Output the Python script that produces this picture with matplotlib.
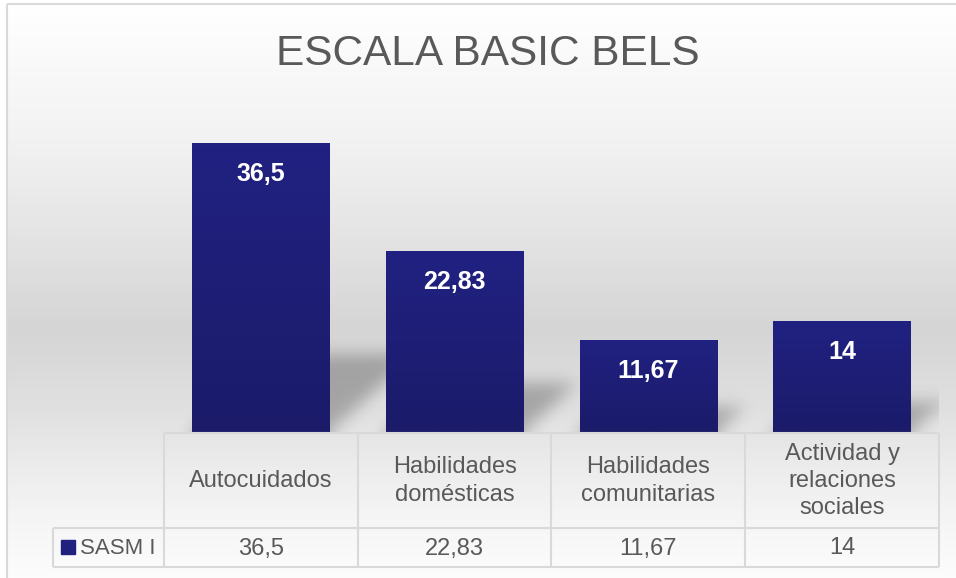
import numpy as np
import matplotlib
matplotlib.use("Agg")
import matplotlib.pyplot as plt
from matplotlib.patches import Rectangle

# ---------------------------------------------------------------------------
# datos
# ---------------------------------------------------------------------------
TITLE = "ESCALA BASIC BELS"
SERIES = "SASM I"
CATEGORIES = ["Autocuidados", "Habilidades\ndomésticas",
              "Habilidades\ncomunitarias", "Actividad y\nrelaciones\nsociales"]
VALUES = [36.5, 22.83, 11.67, 14]

# ---------------------------------------------------------------------------
# diseño (pixeles de la figura)
# ---------------------------------------------------------------------------
W, H = 956, 578
PLOT_L, PLOT_R = 164, 939
PLOT_B, PLOT_T = 432, 115
ROW_MID = 528
TABLE_B = 567
LEG_L = 53
YMAX = 40
BAR_W = 0.71

TXT = "#595959"
GRID = "#d9d9d9"
BAR_TOP = np.array([33, 33, 130]) / 255
BAR_BOT = np.array([27, 27, 106]) / 255

plt.rcParams["font.family"] = ["Liberation Sans", "DejaVu Sans"]


def fmt(v):
    return f"{v:g}".replace(".", ",")


fig = plt.figure(figsize=(W / 100, H / 100), dpi=100)

# fondo con degradado vertical
bg = fig.add_axes([0, 0, 1, 1], zorder=0)
bg.set_xlim(0, W)
bg.set_ylim(H, 0)
bg.axis("off")
stops_y = [0.0, 0.25, 0.4, 0.56, 0.7, 0.8, 0.9, 1.0]
stops_v = [255, 241, 228, 213, 224, 236, 246, 253]
yy = np.linspace(0, 1, 300)
grad = np.interp(yy, stops_y, stops_v) / 255
bg.imshow(np.repeat(grad[:, None, None], 3, axis=2) * np.ones((1, 2, 3)),
          extent=(7, W + 5, H + 5, 4), aspect="auto", zorder=0)
bg.add_patch(Rectangle((7, 4), W, H, fill=False, ec=GRID, lw=1.5, zorder=1))

bg.text(W / 2 + 10, 54, TITLE, ha="center", va="center", fontsize=30.5, color=TXT)

# area del grafico
ax = fig.add_axes([PLOT_L / W, 1 - PLOT_B / H, (PLOT_R - PLOT_L) / W,
                   (PLOT_B - PLOT_T) / H], zorder=2)
ax.patch.set_alpha(0)
ax.set_xlim(-0.5, len(VALUES) - 0.5)
ax.set_ylim(0, YMAX)
ax.axis("off")
x = np.arange(len(VALUES))

# sombras en perspectiva (difuminadas)
nx, ny = PLOT_R - PLOT_L, PLOT_B - PLOT_T
gx = -0.5 + (np.arange(nx) + 0.5) / nx * len(VALUES)
gy = (np.arange(ny) + 0.5) / ny * YMAX
GX, GY = np.meshgrid(gx, gy)
mask = np.zeros((ny, nx))
for xi, v in zip(x, VALUES):
    hs = 0.27 * v
    dx = 1.1 * hs * (ny / YMAX) * (len(VALUES) / nx)
    t = np.clip(GY / hs, 0, None)
    inside = (GY <= hs) & (GX >= xi - BAR_W / 2 + dx * t) & (GX <= xi + BAR_W / 2 + dx * t)
    mask[inside] = 1.0
sig = 8
k = np.exp(-0.5 * (np.arange(-3 * sig, 3 * sig + 1) / sig) ** 2)
k /= k.sum()
pad = 3 * sig
mask = np.pad(mask, ((pad, pad), (pad, pad)), mode="edge")
mask = np.apply_along_axis(lambda r: np.convolve(r, k, mode="same"), 1, mask)
mask = np.apply_along_axis(lambda c: np.convolve(c, k, mode="same"), 0, mask)
mask = mask[pad:-pad, pad:-pad]
shadow = np.zeros((ny, nx, 4))
shadow[..., 3] = mask * 0.26
ax.imshow(shadow, extent=(-0.5, len(VALUES) - 0.5, 0, YMAX), origin="lower",
          aspect="auto", zorder=1)

# barras con degradado
bars = ax.bar(x, VALUES, width=BAR_W, color=BAR_TOP, zorder=2)
ramp = np.linspace(0, 1, 64)[:, None, None]
gimg = (BAR_BOT * ramp + BAR_TOP * (1 - ramp)) * np.ones((1, 2, 3))
for b in bars:
    im = ax.imshow(gimg, extent=(b.get_x(), b.get_x() + b.get_width(), 0, b.get_height()),
                   aspect="auto", zorder=3)
    im.set_clip_path(b)
ax.set_xlim(-0.5, len(VALUES) - 0.5)
ax.set_ylim(0, YMAX)

for xi, v in zip(x, VALUES):
    ax.annotate(fmt(v), (xi, v), xytext=(0, -31), textcoords="offset pixels",
                ha="center", va="center", color="white", fontsize=18,
                fontweight="bold", zorder=4)

# tabla de datos
tb = fig.add_axes([0, 0, 1, 1], zorder=3)
tb.set_xlim(0, W)
tb.set_ylim(H, 0)
tb.axis("off")
colw = (PLOT_R - PLOT_L) / len(VALUES)
edges = [PLOT_L + i * colw for i in range(len(VALUES) + 1)]
kw = dict(color=GRID, lw=1.5, solid_capstyle="butt")
tb.plot([PLOT_L, PLOT_R], [PLOT_B + 1, PLOT_B + 1], **kw)
tb.plot([LEG_L, PLOT_R], [ROW_MID, ROW_MID], **kw)
tb.plot([LEG_L, PLOT_R], [TABLE_B, TABLE_B], **kw)
tb.plot([LEG_L, LEG_L], [ROW_MID, TABLE_B], **kw)
for e in edges:
    tb.plot([e, e], [PLOT_B + 1, TABLE_B], **kw)

for i, (cat, v) in enumerate(zip(CATEGORIES, VALUES)):
    cx = edges[i] + colw / 2
    tb.text(cx, (PLOT_B + ROW_MID) / 2 + 1, cat, ha="center", va="center",
            fontsize=17, color=TXT, linespacing=1.32)
    tb.text(cx, (ROW_MID + TABLE_B) / 2 + 1, fmt(v), ha="center", va="center",
            fontsize=17, color=TXT)

tb.add_patch(Rectangle((61, 540), 14, 14, color=BAR_TOP * 0.85 + BAR_BOT * 0.15))
tb.text(80, (ROW_MID + TABLE_B) / 2 + 1, SERIES, ha="left", va="center",
        fontsize=16, color=TXT)

fig.savefig("out.png", dpi=100)
